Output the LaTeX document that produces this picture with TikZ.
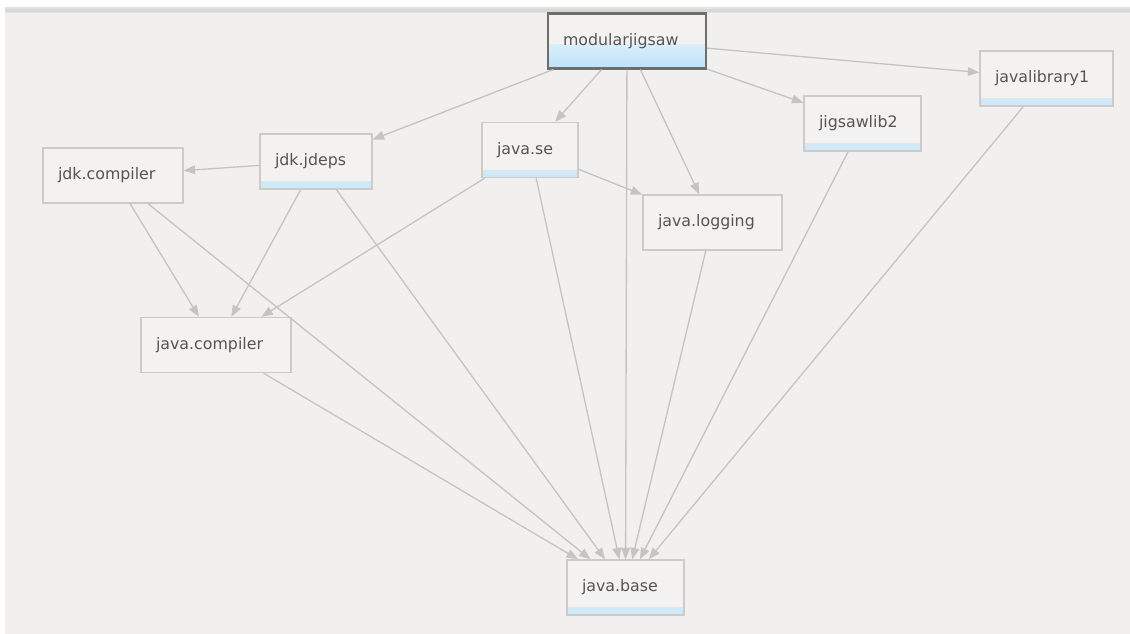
\documentclass[tikz,border=0pt]{standalone}
\usepackage{fontspec}
\setmainfont{DejaVu Sans}
\usetikzlibrary{arrows.meta}
\definecolor{bg}{HTML}{F1F0EE}
\definecolor{band}{HTML}{DAD8D5}
\definecolor{boxfill}{HTML}{F3F2F0}
\definecolor{boxline}{HTML}{CDCBC8}
\definecolor{rootline}{HTML}{6E6E6E}
\definecolor{edge}{HTML}{C6C4C0}
\definecolor{txt}{HTML}{555555}
\definecolor{stripblue}{HTML}{CDE8F8}
\definecolor{rootblue}{HTML}{BCE2F8}
\tikzstyle{mod}=[rectangle,draw=boxline,line width=.8pt,fill=boxfill,minimum height=1.1cm,inner xsep=.3cm,inner ysep=0pt,align=left,text=txt,font=\fontsize{9}{11}\selectfont]
\tikzstyle{strip}=[path picture={\shade[top color=boxfill,bottom color=stripblue] ([yshift=.14cm]path picture bounding box.south west) rectangle (path picture bounding box.south east);}]
\tikzstyle{root}=[draw=rootline,line width=1.2pt,path picture={\shade[top color=white,bottom color=rootblue] ([yshift=.48cm]path picture bounding box.south west) rectangle (path picture bounding box.south east);}]
\tikzstyle{dep}=[draw=edge,line width=.75pt,-{Triangle[length=6.5pt,width=5pt]}]

\begin{document}
\begin{tikzpicture}[x=0.02cm,y=-0.02cm]
\useasboundingbox (0,0) rectangle (1130,634);
\fill[white] (-5,-5) rectangle (1140,640);
\fill[bg] (5,7) rectangle (1140,640);
\fill[band!60!bg] (5,7) rectangle (1140,13);
\fill[band] (5,9.5) rectangle (1140,12);

\node[mod,root,text width=2.56cm] (mj) at (627,41) {modularjigsaw};
\node[mod,strip,text width=2.06cm] (lib1) at (1046.5,78.5) {javalibrary1};
\node[mod,strip,text width=1.74cm] (lib2) at (862.5,123.5) {jigsawlib2};
\node[mod,strip,text width=1.64cm] (jdeps) at (316,161.5) {jdk.jdeps};
\node[mod,strip,text width=1.32cm] (jse) at (530,150) {java.se};
\node[mod,text width=2.2cm] (jdkc) at (113,175.5) {jdk.compiler};
\node[mod,text width=2.18cm] (log) at (712.5,222.5) {java.logging};
\node[mod,text width=2.4cm] (jc) at (216,345) {java.compiler};
\node[mod,strip,text width=1.74cm] (base) at (625.5,587.5) {java.base};

\draw[dep] (mj) -- (jdeps);
\draw[dep] (mj) -- (jse);
\draw[dep] (mj) -- (base);
\draw[dep] (mj) -- (log);
\draw[dep] (mj) -- (lib2);
\draw[dep] (mj) -- (lib1);
\draw[dep] (jdeps) -- (jdkc);
\draw[dep] (jdeps) -- (jc);
\draw[dep] (jdeps) -- (base);
\draw[dep] (jdkc) -- (jc);
\draw[dep] (jdkc) -- (base);
\draw[dep] (jse) -- (jc);
\draw[dep] (jse) -- (log);
\draw[dep] (jse) -- (base);
\draw[dep] (log) -- (base);
\draw[dep] (lib2) -- (base);
\draw[dep] (lib1) -- (base);
\draw[dep] (jc) -- (base);
\end{tikzpicture}
\end{document}
